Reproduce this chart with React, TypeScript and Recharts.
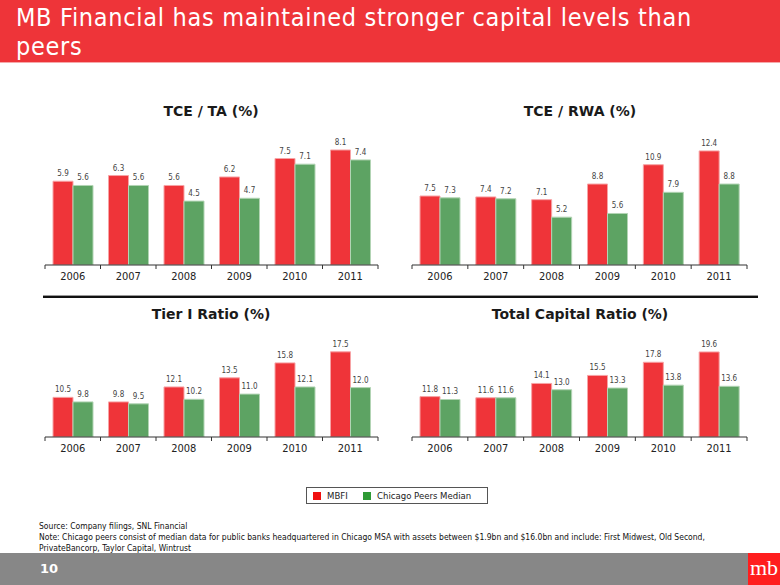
import React from 'react';
import { BarChart, Bar, XAxis, YAxis, LabelList } from 'recharts';

const years = ['2006', '2007', '2008', '2009', '2010', '2011'];
const tceTaMbfi = [5.9, 6.3, 5.6, 6.2, 7.5, 8.1];
const tceTaPeers = [5.6, 5.6, 4.5, 4.7, 7.1, 7.4];
const tceRwaMbfi = [7.5, 7.4, 7.1, 8.8, 10.9, 12.4];
const tceRwaPeers = [7.3, 7.2, 5.2, 5.6, 7.9, 8.8];
const tier1Mbfi = [10.5, 9.8, 12.1, 13.5, 15.8, 17.5];
const tier1Peers = [9.8, 9.5, 10.2, 11.0, 12.1, 12.0];
const totalMbfi = [11.8, 11.6, 14.1, 15.5, 17.8, 19.6];
const totalPeers = [11.3, 11.6, 13.0, 13.3, 13.8, 13.6];

const RED = '#EF3439';
const GREEN = '#5DA363';
const FONT = "'DejaVu Sans Condensed', 'DejaVu Sans', sans-serif";

const build = (a: number[], b: number[]) =>
  years.map((y, i) => ({ year: y, mbfi: a[i], peers: b[i] }));

type PanelProps = {
  title: string;
  a: number[];
  b: number[];
  domain: [number, number];
  left: number;
  top: number;
  width: number;
  height: number;
  margin: { top: number; right: number; left: number; bottom: number };
  titleTop: number;
  titleCenter: number;
};

const makeTick = (band: number, n: number) => (props: any) => {
  const { x, y, payload, index } = props;
  return (
    <g>
      <line x1={x - band / 2} y1={y} x2={x - band / 2} y2={y + 4} stroke="#333" strokeWidth={1} />
      {index === n - 1 && (
        <line x1={x + band / 2} y1={y} x2={x + band / 2} y2={y + 4} stroke="#333" strokeWidth={1} />
      )}
      <text x={x} y={y + 15} textAnchor="middle" fontSize={11} fontFamily={FONT} fill="#222">
        {payload.value}
      </text>
    </g>
  );
};

const fmt = (v: any) => Number(v).toFixed(1);

const Panel = (p: PanelProps) => {
  const data = build(p.a, p.b);
  const plotW = p.width - p.margin.left - p.margin.right;
  const band = plotW / years.length;
  return (
    <>
      <div
        style={{
          position: 'absolute',
          left: p.titleCenter - 150,
          width: 300,
          top: p.titleTop,
          textAlign: 'center',
          fontFamily: "'DejaVu Sans', sans-serif",
          fontWeight: 'bold',
          fontSize: 14,
          color: '#1a1a1a',
          lineHeight: '16px',
        }}
      >
        {p.title}
      </div>
      <div style={{ position: 'absolute', left: p.left, top: p.top }}>
        <BarChart width={p.width} height={p.height} data={data} margin={p.margin} barGap={0}>
          <XAxis
            dataKey="year"
            height={25}
            tickSize={0}
            tickMargin={0}
            tickLine={false}
            axisLine={{ stroke: '#333', strokeWidth: 1.2 }}
            tick={makeTick(band, years.length)}
            interval={0}
          />
          <YAxis hide type="number" domain={p.domain} allowDataOverflow />
          <Bar dataKey="mbfi" fill={RED} stroke="#F7A3A5" strokeWidth={1} barSize={20} isAnimationActive={false}>
            <LabelList dataKey="mbfi" position="top" offset={5} formatter={fmt} fontSize={8} fontFamily={FONT} fill="#444" />
          </Bar>
          <Bar dataKey="peers" fill={GREEN} stroke="#B2D4B4" strokeWidth={1} barSize={20} isAnimationActive={false}>
            <LabelList dataKey="peers" position="top" offset={5} formatter={fmt} fontSize={8} fontFamily={FONT} fill="#444" />
          </Bar>
        </BarChart>
      </div>
    </>
  );
};

const titleStyle: React.CSSProperties = {
  position: 'absolute',
  left: 16,
  width: 760,
  color: '#fff',
  fontFamily: "'Liberation Sans Narrow', 'DejaVu Sans Condensed', sans-serif",
  fontSize: 25,
  letterSpacing: 0.7,
  lineHeight: '29px',
  height: 29,
  whiteSpace: 'nowrap',
};

export default function App() {
  return (
    <div
      style={{
        position: 'absolute',
        left: 0,
        top: 0,
        width: 780,
        height: 585,
        background: '#fff',
        overflow: 'hidden',
      }}
    >
      <div
        style={{
          position: 'absolute',
          left: 0,
          top: 0,
          width: 780,
          height: 62,
          background: '#EE3439',
          borderBottom: '1px solid #F6A9AA',
        }}
      />
      <div style={{ ...titleStyle, top: 3 }}>MB Financial has maintained stronger capital levels than</div>
      <div style={{ ...titleStyle, top: 32 }}>peers</div>

      <Panel
        title="TCE / TA (%)"
        a={tceTaMbfi}
        b={tceTaPeers}
        domain={[0, 10]}
        left={30}
        top={100}
        width={360}
        height={190}
        margin={{ top: 23, right: 12, left: 15, bottom: 0 }}
        titleTop={103}
        titleCenter={211}
      />
      <Panel
        title="TCE / RWA (%)"
        a={tceRwaMbfi}
        b={tceRwaPeers}
        domain={[0, 15]}
        left={400}
        top={100}
        width={370}
        height={190}
        margin={{ top: 27, right: 23, left: 12, bottom: 0 }}
        titleTop={103}
        titleCenter={580}
      />

      <div style={{ position: 'absolute', left: 43, top: 295, width: 715, height: 1, background: '#999' }} />
      <div style={{ position: 'absolute', left: 43, top: 296, width: 715, height: 2, background: '#111' }} />

      <Panel
        title="Tier I Ratio (%)"
        a={tier1Mbfi}
        b={tier1Peers}
        domain={[4.4, 20]}
        left={30}
        top={300}
        width={360}
        height={162}
        margin={{ top: 35.6, right: 12, left: 15, bottom: 0 }}
        titleTop={306}
        titleCenter={211}
      />
      <Panel
        title="Total Capital Ratio (%)"
        a={totalMbfi}
        b={totalPeers}
        domain={[4.75, 22]}
        left={400}
        top={300}
        width={370}
        height={162}
        margin={{ top: 38.2, right: 23, left: 12, bottom: 0 }}
        titleTop={306}
        titleCenter={580}
      />

      <div
        style={{
          position: 'absolute',
          left: 306,
          top: 487,
          width: 182,
          height: 17,
          border: '1px solid #555',
          boxSizing: 'border-box',
          fontFamily: FONT,
          fontSize: 9.5,
          color: '#222',
        }}
      >
        <div style={{ position: 'absolute', left: 6, top: 4, width: 8, height: 8, background: '#F01010' }} />
        <div style={{ position: 'absolute', left: 20, top: 2, lineHeight: '12px' }}>MBFI</div>
        <div style={{ position: 'absolute', left: 56, top: 4, width: 8, height: 8, background: '#2E9A35' }} />
        <div style={{ position: 'absolute', left: 70, top: 2, lineHeight: '12px' }}>Chicago Peers Median</div>
      </div>

      <div
        style={{
          position: 'absolute',
          left: 39,
          top: 521,
          width: 730,
          fontFamily: FONT,
          fontSize: 8.5,
          lineHeight: '11px',
          color: '#111',
        }}
      >
        Source: Company filings, SNL Financial
        <br />
        Note: Chicago peers consist of median data for public banks headquartered in Chicago MSA with assets between
        $1.9bn and $16.0bn and include: First Midwest, Old Second,
        <br />
        PrivateBancorp, Taylor Capital, Wintrust
      </div>

      <div style={{ position: 'absolute', left: 0, top: 553, width: 780, height: 32, background: '#878787' }} />
      <div
        style={{
          position: 'absolute',
          left: 40,
          top: 561,
          color: '#fff',
          fontFamily: "'DejaVu Sans', sans-serif",
          fontWeight: 'bold',
          fontSize: 13,
          lineHeight: '16px',
        }}
      >
        10
      </div>
      <div style={{ position: 'absolute', left: 748, top: 553, width: 32, height: 32, background: '#FF1E1E' }} />
      <div
        style={{
          position: 'absolute',
          left: 748,
          top: 556,
          width: 32,
          textAlign: 'center',
          color: '#fff',
          fontFamily: "'Liberation Serif', serif",
          fontSize: 22,
          lineHeight: '24px',
        }}
      >
        mb
      </div>
    </div>
  );
}
